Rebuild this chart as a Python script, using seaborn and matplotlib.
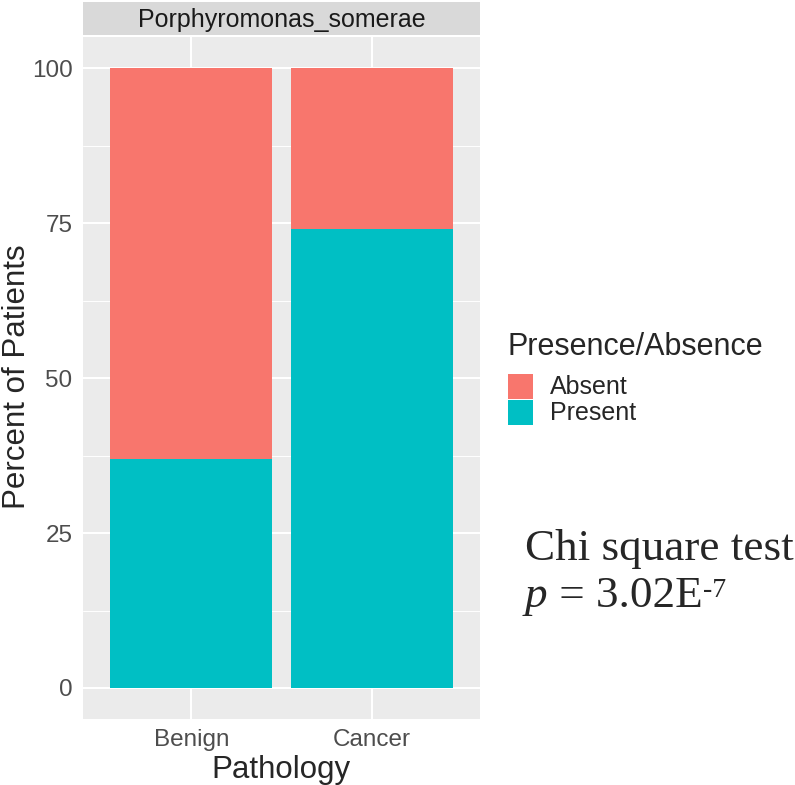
import numpy as np
import pandas as pd
import seaborn as sns
import matplotlib.pyplot as plt
from matplotlib.ticker import MultipleLocator
from matplotlib.patches import Rectangle

# Data
pathology = ["Benign", "Cancer"]
present_pct = [37, 74]
absent_pct = [63, 26]
groups = ["Absent", "Present"]
group_colors = ["#F8766D", "#00BFC4"]
y_ticks = [0, 25, 50, 75, 100]
facet_label = "Porphyromonas_somerae"

df = pd.DataFrame({
    "Pathology": pathology,
    "Present": present_pct,
    "Absent": absent_pct,
})
df["Total"] = df["Present"] + df["Absent"]

sns.set_style("white")
plt.rcParams["font.family"] = ["Liberation Sans", "DejaVu Sans"]

W, H = 795, 785
fig = plt.figure(figsize=(W / 100, H / 100), dpi=100)
ax = fig.add_axes([83 / W, 1 - 719 / H, 397 / W, 682 / H])
ax.set_facecolor("#EBEBEB")

# stacked bars: absent on top (drawn as total), present underneath
sns.barplot(data=df, x="Pathology", y="Total", color=group_colors[0],
            width=0.9, saturation=1, ax=ax, zorder=3, linewidth=0)
sns.barplot(data=df, x="Pathology", y="Present", color=group_colors[1],
            width=0.9, saturation=1, ax=ax, zorder=3, linewidth=0)

ax.set_xlim(-0.6, 1.6)
ax.set_ylim(-5, 105)
ax.set_yticks(y_ticks)
ax.yaxis.set_minor_locator(MultipleLocator(12.5))
ax.grid(True, which="major", color="white", linewidth=1.5, zorder=0)
ax.grid(True, which="minor", axis="y", color="white", linewidth=0.7, zorder=0)
ax.set_axisbelow(True)
for s in ax.spines.values():
    s.set_visible(False)

ax.tick_params(axis="both", which="major", length=4.5, width=1.1, color="#333333",
               labelsize=17.5, labelcolor="#4D4D4D", pad=3)
ax.tick_params(axis="y", which="minor", length=0)
ax.set_xlabel("")
ax.set_ylabel("")

# axis titles
fig.text(281 / W, 1 - 778 / H, "Pathology", fontsize=22.5, ha="center", va="baseline")
fig.text(17 / W, 1 - 377 / H, "Percent of Patients", fontsize=22.5, rotation=90,
         ha="center", va="center")

# facet strip
strip = fig.add_axes([83 / W, 1 - 35 / H, 397 / W, 33 / H])
strip.set_facecolor("#D9D9D9")
strip.set_xticks([])
strip.set_yticks([])
for s in strip.spines.values():
    s.set_visible(False)
strip.text(0.5, 0.45, facet_label, ha="center", va="center",
           fontsize=18, color="#1A1A1A", transform=strip.transAxes)

# legend
fig.text(508 / W, 1 - 355 / H, "Presence/Absence", fontsize=22,
         ha="left", va="baseline")
key_tops = [374, 400]
for lab, col, top in zip(groups, group_colors, key_tops):
    fig.patches.append(Rectangle((508 / W, 1 - (top + 25) / H), 25 / W, 25 / H,
                                 transform=fig.transFigure, facecolor=col,
                                 edgecolor="none"))
    fig.text(550 / W, 1 - (top + 12.5) / H, lab, fontsize=18,
             ha="left", va="center")

# test annotation
serif = "Liberation Serif"
fig.text(525 / W, 1 - 560 / H, "Chi square test", fontsize=32.5,
         family=serif, ha="left", va="baseline")
renderer = fig.canvas.get_renderer()
x0 = 525
t1 = fig.text(x0 / W, 1 - 607 / H, "p", fontsize=32.5, family=serif,
              style="italic", ha="left", va="baseline")
x0 += t1.get_window_extent(renderer).width
t2 = fig.text(x0 / W, 1 - 607 / H, " = 3.02E", fontsize=32.5, family=serif,
              ha="left", va="baseline")
x0 += t2.get_window_extent(renderer).width
fig.text((x0 + 1) / W, 1 - 597 / H, "-7", fontsize=20, family=serif,
         ha="left", va="baseline")

fig.savefig("out.png", dpi=100)
